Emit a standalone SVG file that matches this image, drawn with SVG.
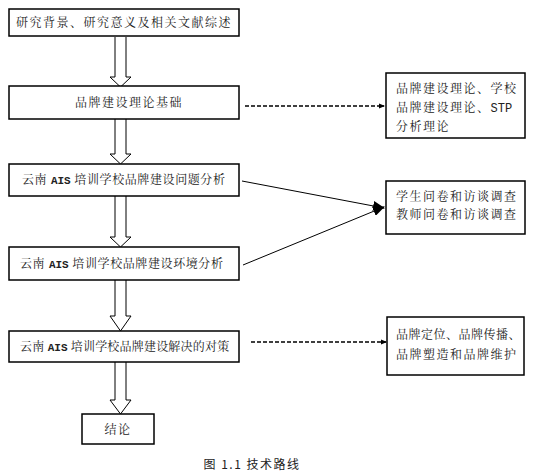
<svg xmlns="http://www.w3.org/2000/svg" width="534" height="474" viewBox="0 0 534 474">
<style>
.box{fill:#fff;stroke:#000;stroke-width:1.5}
.t{font-family:"Noto Serif CJK SC","Noto Sans CJK SC",serif;font-size:12px;fill:#222;letter-spacing:1.5px}
.n{letter-spacing:0.6px}
.m{font-family:"Liberation Mono",monospace;font-weight:bold;font-size:11px;letter-spacing:0}
.c{text-anchor:middle}
.dbl{fill:#fff;stroke:#000;stroke-width:1}
.dash{stroke:#000;stroke-width:1.5;stroke-dasharray:4 2;fill:none}
.ln{stroke:#000;stroke-width:1;fill:none}
</style>
<defs>
<marker id="sm" markerWidth="6" markerHeight="6" refX="5" refY="3" orient="auto" markerUnits="userSpaceOnUse">
<path d="M0,0.5 L6,3 L0,5.5 Z" fill="#000"/>
</marker>
<marker id="big" markerWidth="12" markerHeight="10" refX="11" refY="5" orient="auto" markerUnits="userSpaceOnUse">
<path d="M0,0 L12,5 L0,10 Z" fill="#000"/>
</marker>
</defs>
<g id="connectors">
<path class="dbl" d="M115,37 V77 H110 L120.5,87 L131,77 H126 V37"/>
<path class="dbl" d="M115,119 V154 H110 L120.5,164 L131,154 H126 V119"/>
<path class="dbl" d="M115,196 V237 H110 L120.5,247 L131,237 H126 V196"/>
<path class="dbl" d="M115,280 V316 H110 L120.5,331 L131,316 H126 V280"/>
<path class="dbl" d="M115,362 V400 H110 L120.5,414 L131,400 H126 V362"/>
<line class="dash" x1="245" y1="106" x2="384" y2="106" marker-end="url(#sm)"/>
<line class="dash" x1="251" y1="342" x2="386" y2="342" marker-end="url(#sm)"/>
<line class="ln" x1="242" y1="181" x2="384" y2="208" marker-end="url(#big)"/>
<line class="ln" x1="243" y1="265" x2="384" y2="207" marker-end="url(#big)"/>
</g>
<g id="n1"><rect class="box" x="9" y="9" width="230" height="27"/><text class="t c" x="124" y="27">研究背景、研究意义及相关文献综述</text></g>
<g id="n2"><rect class="box" x="9" y="86" width="230" height="33"/><text class="t c" x="129" y="107">品牌建设理论基础</text></g>
<g id="n3"><rect class="box" x="9" y="164" width="230" height="32"/><text class="t n" x="22" y="184">云南 <tspan class="m">AIS</tspan> 培训学校品牌建设问题分析</text></g>
<g id="n4"><rect class="box" x="9" y="247" width="230" height="33"/><text class="t n" x="20" y="268">云南 <tspan class="m">AIS</tspan> 培训学校品牌建设环境分析</text></g>
<g id="n5"><rect class="box" x="9" y="331" width="230" height="31"/><text class="t" x="20" y="351" style="letter-spacing:0.2px">云南 <tspan class="m">AIS</tspan> 培训学校品牌建设解决的对策</text></g>
<g id="n6"><rect class="box" x="82" y="414" width="72" height="30"/><text class="t c" x="118" y="434">结论</text></g>
<g id="nA"><rect class="box" x="386" y="73" width="139" height="65"/>
<text class="t" x="396" y="93">品牌建设理论、学校</text>
<text class="t" x="396" y="112">品牌建设理论、<tspan class="m" style="font-weight:normal;font-size:12px">STP</tspan></text>
<text class="t" x="396" y="131">分析理论</text></g>
<g id="nB"><rect class="box" x="386" y="181" width="139" height="53"/>
<text class="t" x="396" y="201">学生问卷和访谈调查</text>
<text class="t" x="396" y="219">教师问卷和访谈调查</text></g>
<g id="nC"><rect class="box" x="387" y="317" width="137" height="58"/>
<text class="t" x="396" y="339" style="letter-spacing:0.5px">品牌定位、品牌传播、</text>
<text class="t" x="396" y="359">品牌塑造和品牌维护</text></g>
<text class="t c" x="252" y="469" style="font-family:'Noto Sans CJK SC',sans-serif">图 1.1 技术路线</text>
</svg>
